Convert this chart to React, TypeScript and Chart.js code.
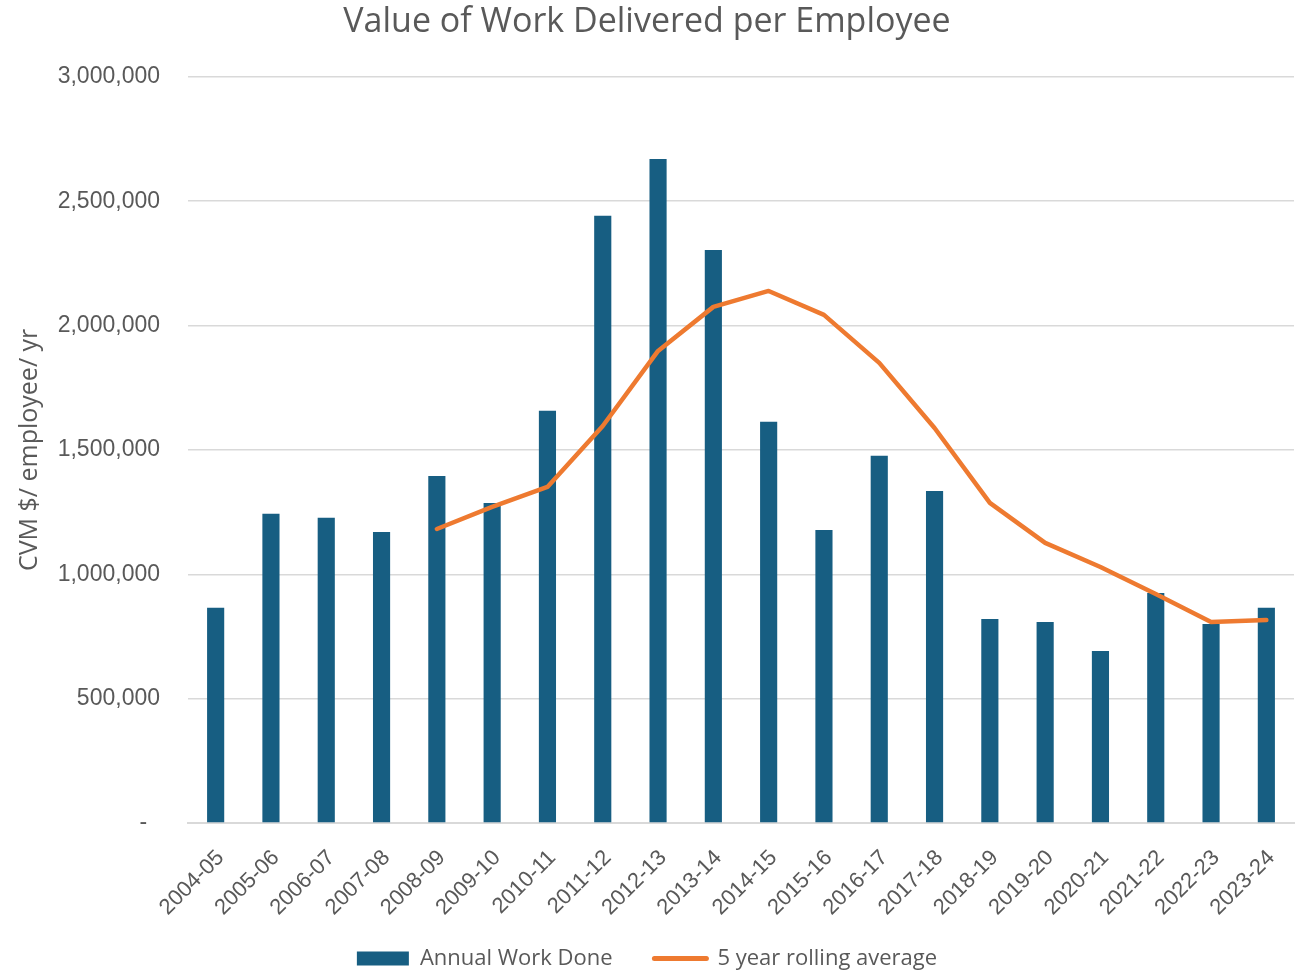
import React, { useEffect, useRef } from "react";
import { Chart, registerables } from "chart.js";

Chart.register(...registerables);

const categories = [
  "2004-05", "2005-06", "2006-07", "2007-08", "2008-09", "2009-10", "2010-11",
  "2011-12", "2012-13", "2013-14", "2014-15", "2015-16", "2016-17", "2017-18",
  "2018-19", "2019-20", "2020-21", "2021-22", "2022-23", "2023-24",
];

const annualWorkDone = [
  865000, 1243000, 1227000, 1170000, 1395000, 1287000, 1657000,
  2441000, 2670000, 2304000, 1613000, 1178000, 1476000, 1335000,
  820000, 808000, 692000, 925000, 800000, 865000,
];

const rollingAverage = [
  null, null, null, null, 1182000, 1271000, 1351000,
  1596000, 1898000, 2075000, 2139000, 2043000, 1850000, 1588000,
  1287000, 1126000, 1029000, 921000, 808000, 816000,
];

const yTicks = [0, 500000, 1000000, 1500000, 2000000, 2500000, 3000000];

const TEXT = "#595959";
const BAR = "#175E82";
const LINE = "#EE7A30";
const GRID = "#D9D9D9";

export default function App() {
  const ref = useRef<HTMLCanvasElement | null>(null);

  useEffect(() => {
    if (!ref.current) return;
    const chart = new Chart(ref.current, {
      type: "bar",
      data: {
        labels: categories,
        datasets: [
          {
            type: "bar",
            label: "Annual Work Done",
            data: annualWorkDone,
            backgroundColor: BAR,
            borderWidth: 0,
            barPercentage: 0.31,
            categoryPercentage: 1,
            order: 1,
          },
          {
            type: "line",
            label: "5 year rolling average",
            data: rollingAverage,
            borderColor: LINE,
            backgroundColor: LINE,
            borderWidth: 4.5,
            borderCapStyle: "round",
            borderJoinStyle: "round",
            pointRadius: 0,
            pointHoverRadius: 0,
            tension: 0,
            spanGaps: false,
            order: 0,
          } as any,
        ],
      },
      options: {
        responsive: false,
        animation: false,
        devicePixelRatio: 1,
        layout: { padding: { left: 0, right: 2, top: 0, bottom: 0 } },
        plugins: {
          title: {
            display: true,
            text: "Value of Work Delivered per Employee",
            color: TEXT,
            font: { family: "'Open Sans', sans-serif", size: 34, weight: "normal" },
            padding: { top: 2, bottom: 34 },
          },
          legend: {
            position: "bottom",
            maxHeight: 30,
            labels: {
              usePointStyle: true,
              pointStyleWidth: 52,
              boxHeight: 14,
              padding: 7.5,
              color: TEXT,
              font: { family: "'Open Sans', sans-serif", size: 22 },
              sort: (a: any, b: any) => a.datasetIndex - b.datasetIndex,
              generateLabels: (c: any) => {
                const base = Chart.defaults.plugins.legend.labels.generateLabels(c);
                return base.map((l: any) => {
                  if (l.datasetIndex === 0) {
                    return { ...l, text: l.text + "      ", pointStyle: "rect", lineWidth: 0, strokeStyle: BAR, fillStyle: BAR };
                  }
                  return { ...l, pointStyle: "line", lineWidth: 5, strokeStyle: LINE, lineCap: "round" };
                });
              },
            },
          },
          tooltip: { enabled: false },
        },
        scales: {
          x: {
            grid: { display: false, drawTicks: false },
            border: { display: true, color: GRID, width: 2 },
            ticks: {
              color: TEXT,
              font: { family: "'Liberation Sans', Arial, sans-serif", size: 22 },
              maxRotation: 45,
              minRotation: 45,
              autoSkip: false,
              padding: 22,
              labelOffset: 5,
            },
            afterFit: (s: any) => {
              s.height = 117;
              s.paddingRight = 0;
              s.paddingLeft = 0;
            },
          },
          y: {
            min: 0,
            max: 3000000,
            afterBuildTicks: (s: any) => {
              s.ticks = yTicks.map((v) => ({ value: v }));
            },
            grid: { color: GRID, lineWidth: 1.5, drawTicks: false },
            border: { display: false },
            ticks: {
              color: TEXT,
              font: { family: "'Liberation Sans', Arial, sans-serif", size: 23 },
              padding: 28,
              callback: (v: any) => (Number(v) === 0 ? "-  " : Number(v).toLocaleString("en-US")),
            },
            title: {
              display: true,
              text: "CVM $/ employee/ yr",
              color: TEXT,
              font: { family: "'Open Sans', sans-serif", size: 25 },
              padding: { top: 15, bottom: 0 },
            },
            afterFit: (s: any) => {
              s.width = 188;
            },
          },
        },
      },
    });
    return () => chart.destroy();
  }, []);

  return (
    <div style={{ position: "absolute", left: 0, top: 0, width: 1296, height: 970, background: "#fff" }}>
      <canvas ref={ref} width={1296} height={970} />
    </div>
  );
}
